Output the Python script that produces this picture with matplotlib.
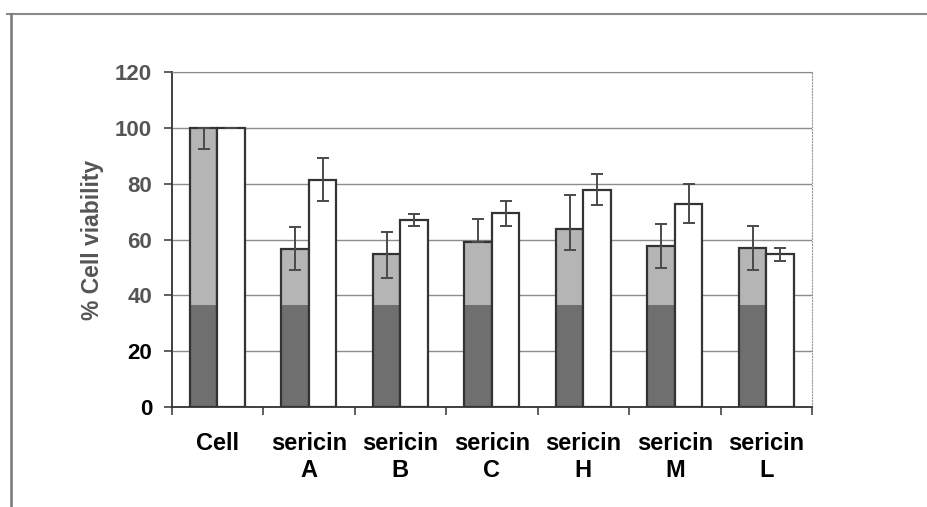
import matplotlib
matplotlib.use("Agg")
import matplotlib.pyplot as plt
from matplotlib.lines import Line2D
import numpy as np

plt.rcParams["font.family"] = ["Liberation Sans", "DejaVu Sans"]
plt.rcParams["font.weight"] = "bold"

# data
groups = ["Cell", "sericin\nA", "sericin\nB", "sericin\nC",
          "sericin\nH", "sericin\nM", "sericin\nL"]
grey_vals = [100, 56.7, 54.8, 59.1, 63.8, 57.7, 57.1]
grey_err_lo = [7.5, 7.7, 8.7, 0, 7.5, 8.0, 8.0]
grey_err_hi = [0, 7.7, 7.8, 8.3, 12.2, 7.9, 7.9]
white_vals = [100, 81.4, 67.0, 69.4, 77.9, 72.8, 54.7]
white_err = [0, 7.7, 2.1, 4.4, 5.7, 7.0, 2.4]
yticks = [0, 20, 40, 60, 80, 100, 120]

# the scan is darker below roughly this value
SCAN_SPLIT = 36.6

x = np.arange(len(groups))
w = 0.3

fig = plt.figure(figsize=(9.28, 5.07), dpi=100)
ax = fig.add_axes([0.185, 0.197, 0.69, 0.661])

ax.set_axisbelow(True)
ax.grid(axis="y", color="#8c8c8c", linewidth=1.0)

err_kw = dict(ecolor="#4a4a4a", elinewidth=1.4, capsize=4, capthick=1.4, zorder=4)

# grey series: fill, darker scan band, then outline + error bars on top
ax.bar(x - w / 2, grey_vals, w, color="#b5b5b5", edgecolor="none", zorder=2)
ax.bar(x - w / 2, np.minimum(grey_vals, SCAN_SPLIT), w, color="#6f6f6f",
       edgecolor="none", zorder=2.2)
ax.bar(x - w / 2, grey_vals, w, fill=False, edgecolor="#333333", linewidth=1.6,
       yerr=[grey_err_lo, grey_err_hi], error_kw=err_kw, zorder=3)

ax.bar(x + w / 2, white_vals, w, color="white", edgecolor="#333333",
       linewidth=1.6, yerr=white_err, error_kw=err_kw, zorder=3)

ax.set_ylim(0, 120)
ax.set_xlim(-0.5, len(groups) - 0.5)
ax.set_yticks(yticks)
ax.set_yticklabels([str(v) for v in yticks], fontsize=16, fontweight="bold")
for lab, v in zip(ax.get_yticklabels(), yticks):
    lab.set_color("black" if v < 40 else "#555555")
ax.tick_params(axis="y", length=6, width=1.2, pad=8, color="#444444")

ax.set_xticks(x)
ax.set_xticklabels(groups, fontsize=17, fontweight="bold", linespacing=1.2)
ax.set_xticks(np.arange(-0.5, len(groups)), minor=True)
ax.tick_params(axis="x", which="major", length=0, pad=18)
ax.tick_params(axis="x", which="minor", length=6, width=1.2, color="#444444")

ax.set_ylabel("% Cell viability", fontsize=16.5, fontweight="bold",
              color="#555555", labelpad=8)

ax.spines["left"].set_color("#333333")
ax.spines["left"].set_linewidth(1.3)
ax.spines["bottom"].set_color("#333333")
ax.spines["bottom"].set_linewidth(1.3)
ax.spines["top"].set_color("#8c8c8c")
ax.spines["right"].set_color("#9a9a9a")
ax.spines["right"].set_linestyle(":")

# chart-area border from the scanned page
fig.add_artist(Line2D([0.008, 1.0], [0.972, 0.972], color="#8a8a8a", linewidth=1.5))
fig.add_artist(Line2D([0.012, 0.012], [0.0, 0.972], color="#777777", linewidth=1.8))

fig.savefig("out.png", dpi=100)
